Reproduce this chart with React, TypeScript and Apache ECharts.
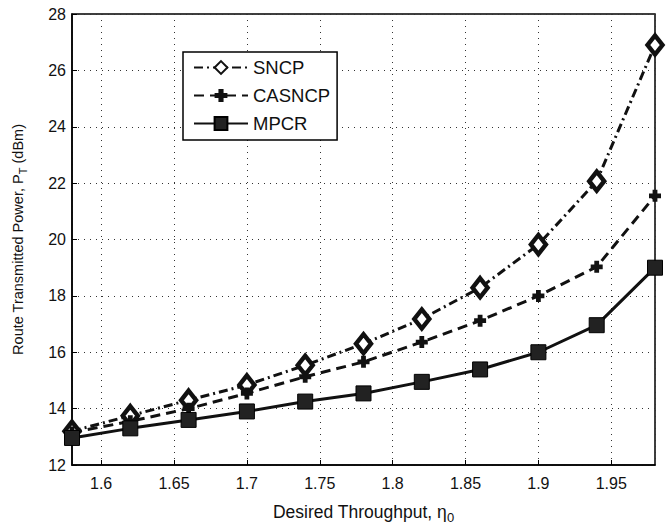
import React, { useEffect, useRef } from "react";
import * as echarts from "echarts";

const xValues = [1.58, 1.62, 1.66, 1.7, 1.74, 1.78, 1.82, 1.86, 1.9, 1.94, 1.98];
const sncp = [13.2, 13.75, 14.3, 14.84, 15.54, 16.3, 17.18, 18.29, 19.82, 22.07, 26.9];
const casncp = [13.15, 13.55, 14.0, 14.54, 15.13, 15.66, 16.36, 17.12, 18.0, 19.03, 21.55];
const mpcr = [12.96, 13.3, 13.6, 13.9, 14.25, 14.54, 14.95, 15.39, 16.0, 16.96, 19.0];
const seriesNames = ["SNCP", "CASNCP", "MPCR"];

const FONT = "Liberation Sans, Arial, Helvetica, sans-serif";
const plusPath = "path://M3,0h4v3h3v4h-3v3h-4v-3h-3v-4h3z";

export default function App() {
  const ref = useRef<HTMLDivElement>(null);
  useEffect(() => {
    if (!ref.current) return;
    const chart = echarts.init(ref.current, undefined, { renderer: "svg" });
    const pair = (arr: number[]) => xValues.map((x, i) => [x, arr[i]]);
    chart.setOption({
      animation: false,
      backgroundColor: "#fff",
      textStyle: { fontFamily: FONT },
      grid: {
        left: 72,
        right: 11,
        top: 14,
        bottom: 60,
        show: true,
        borderColor: "#000",
        borderWidth: 1.5,
        backgroundColor: "transparent",
      },
      legend: {
        orient: "vertical",
        left: 183,
        top: 52,
        padding: [6, 7, 7, 10],
        borderColor: "#000",
        borderWidth: 1.5,
        backgroundColor: "#fff",
        itemWidth: 54,
        itemHeight: 16,
        itemGap: 9,
        textStyle: { fontFamily: FONT, fontSize: 18.5, color: "#111" },
        data: seriesNames,
      },
      xAxis: {
        type: "value",
        min: 1.58,
        max: 1.98,
        splitNumber: 8,
        name: "{a|Desired Throughput, η}{b|0}",
        nameLocation: "middle",
        nameGap: 34,
        nameTextStyle: {
          rich: {
            a: { fontSize: 17.5, color: "#111", fontFamily: FONT },
            b: { fontSize: 13, color: "#111", fontFamily: FONT, padding: [12, 0, 0, 0] },
          },
        },
        axisLine: { show: true, lineStyle: { color: "#000", width: 1.5 } },
        axisTick: { show: true, inside: true, length: 5, lineStyle: { color: "#000" } },
        axisLabel: {
          showMinLabel: false,
          showMaxLabel: false,
          fontSize: 16,
          color: "#111",
          margin: 10,
          fontFamily: FONT,
        },
        splitLine: { show: true, lineStyle: { type: [1, 5], color: "#333", width: 1 } },
      },
      yAxis: {
        type: "value",
        min: 12,
        max: 28,
        interval: 2,
        name: "{a|Route Transmitted Power, P}{b|T}{a| (dBm)}",
        nameLocation: "middle",
        nameGap: 44,
        nameTextStyle: {
          rich: {
            a: { fontSize: 14.5, color: "#111", fontFamily: FONT },
            b: { fontSize: 11, color: "#111", fontFamily: FONT, padding: [10, 0, 0, 0] },
          },
        },
        axisLine: { show: true, lineStyle: { color: "#000", width: 1.5 } },
        axisTick: { show: true, inside: true, length: 5, lineStyle: { color: "#000" } },
        axisLabel: { fontSize: 16, color: "#111", margin: 6, fontFamily: FONT },
        splitLine: { show: true, lineStyle: { type: [1, 5], color: "#333", width: 1 } },
      },
      series: [
        {
          name: seriesNames[0],
          type: "line",
          data: pair(sncp),
          symbol: "diamond",
          symbolSize: [15, 19],
          lineStyle: { color: "#111", width: 3, type: [9, 4, 2, 4] },
          itemStyle: { color: "#fff", borderColor: "#111", borderWidth: 4.5 },
          z: 3,
        },
        {
          name: seriesNames[1],
          type: "line",
          data: pair(casncp),
          symbol: plusPath,
          symbolSize: 12,
          lineStyle: { color: "#111", width: 3, type: [10, 6] },
          itemStyle: { color: "#111" },
          z: 4,
        },
        {
          name: seriesNames[2],
          type: "line",
          data: pair(mpcr),
          symbol: "rect",
          symbolSize: 15,
          lineStyle: { color: "#111", width: 3, type: "solid" },
          itemStyle: { color: "#222", borderColor: "#000", borderWidth: 1 },
          z: 5,
        },
      ],
    });
    return () => chart.dispose();
  }, []);
  return <div ref={ref} style={{ width: 666, height: 529, position: "absolute", left: 0, top: 0 }} />;
}
